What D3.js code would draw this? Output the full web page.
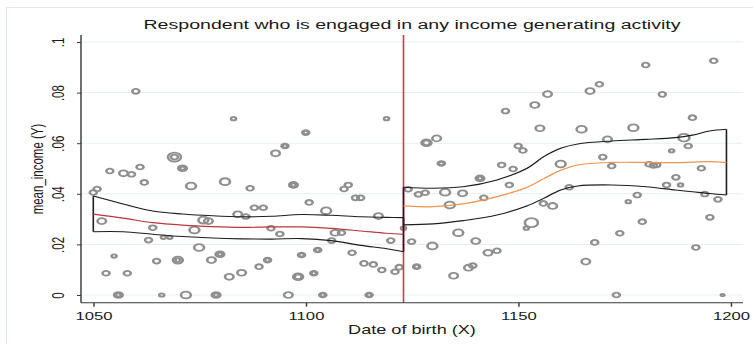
<!DOCTYPE html>
<html>
<head>
<meta charset="utf-8">
<script src="https://cdn.jsdelivr.net/npm/d3@7"></script>
<style>
  html, body { margin: 0; padding: 0; background: #fff; }
  svg { display: block; font-family: "Liberation Sans", Arial, Helvetica, sans-serif; }
</style>
</head>
<body>
<svg id="chart" width="753" height="344"></svg>
<script>
// ---- Binned means: date of birth, mean income, cell weight ----
const dob = [
  1050.0, 1050.9, 1052.0, 1053.0, 1053.9, 1054.9, 1055.9, 1055.9, 1057.1, 1058.0,
  1059.0, 1060.0, 1061.0, 1062.0, 1063.0, 1064.0, 1064.9, 1066.1, 1066.5, 1068.0,
  1069.1, 1069.1, 1069.9, 1069.9, 1071.0, 1071.0, 1071.8, 1073.0, 1073.8, 1074.9,
  1075.9, 1077.1, 1077.8, 1079.8, 1079.8, 1078.9, 1078.9, 1081.0, 1082.0, 1083.0,
  1084.0, 1084.9, 1085.9, 1086.9, 1087.9, 1089.0, 1090.0, 1091.0, 1091.0, 1091.8,
  1092.9, 1093.9, 1095.1, 1095.1, 1095.9, 1097.1, 1097.1, 1098.2, 1098.2, 1099.0,
  1099.0, 1100.0, 1100.0, 1100.8, 1101.9, 1101.9, 1102.8, 1102.8, 1104.0, 1104.0,
  1104.8, 1106.1, 1106.9, 1108.4, 1109.0, 1110.0, 1110.9, 1111.7, 1112.9, 1113.7,
  1114.9, 1114.9, 1115.9, 1117.1, 1117.9, 1119.0, 1120.0, 1121.0, 1122.0, 1123.0,
  1124.1, 1124.9, 1126.1, 1126.1, 1126.5, 1128.1, 1128.4, 1128.4, 1130.8, 1129.8,
  1131.9, 1131.9, 1132.8, 1133.9, 1134.8, 1135.9, 1136.9, 1138.3, 1139.3, 1140.0,
  1141.0, 1141.0, 1141.9, 1142.9, 1145.0, 1146.1, 1147.0, 1147.9, 1148.8, 1150.0,
  1151.1, 1151.9, 1153.1, 1153.9, 1155.1, 1155.9, 1156.9, 1158.1, 1160.0, 1162.0,
  1164.9, 1165.9, 1166.9, 1168.0, 1169.1, 1169.9, 1171.0, 1172.0, 1173.1, 1173.9,
  1175.9, 1177.1, 1178.0, 1179.2, 1180.0, 1180.8, 1181.8, 1182.6, 1183.9, 1184.9,
  1186.1, 1187.1, 1188.2, 1189.0, 1190.0, 1191.0, 1191.8, 1193.1, 1193.9, 1195.1,
  1196.0, 1197.0, 1198.1
];
const meanIncome = [
  0.0405, 0.0419, 0.0292, 0.0086, 0.0490, 0.0154, 0.0000, 0.0000, 0.0481, 0.0086,
  0.0477, 0.0805, 0.0506, 0.0445, 0.0217, 0.0266, 0.0134, 0.0000, 0.0228, 0.0228,
  0.0545, 0.0545, 0.0138, 0.0138, 0.0501, 0.0501, 0.0000, 0.0431, 0.0257, 0.0188,
  0.0296, 0.0292, 0.0138, 0.0161, 0.0161, 0.0000, 0.0000, 0.0448, 0.0072, 0.0697,
  0.0319, 0.0088, 0.0310, 0.0422, 0.0345, 0.0112, 0.0345, 0.0138, 0.0138, 0.0264,
  0.0560, 0.0241, 0.0589, 0.0589, 0.0000, 0.0435, 0.0435, 0.0072, 0.0072, 0.0158,
  0.0158, 0.0642, 0.0642, 0.0366, 0.0086, 0.0086, 0.0178, 0.0178, 0.0000, 0.0000,
  0.0333, 0.0215, 0.0246, 0.0246, 0.0419, 0.0435, 0.0167, 0.0384, 0.0384, 0.0125,
  0.0000, 0.0000, 0.0121, 0.0312, 0.0099, 0.0697, 0.0215, 0.0092, 0.0110, 0.0264,
  0.0418, 0.0211, 0.0112, 0.0112, 0.0398, 0.0404, 0.0602, 0.0602, 0.0619, 0.0194,
  0.0520, 0.0520, 0.0406, 0.0356, 0.0076, 0.0246, 0.0402, 0.0108, 0.0116, 0.0213,
  0.0461, 0.0461, 0.0384, 0.0167, 0.0175, 0.0514, 0.0727, 0.0435, 0.0498, 0.0589,
  0.0571, 0.0264, 0.0286, 0.0751, 0.0659, 0.0362, 0.0794, 0.0352, 0.0518, 0.0426,
  0.0655, 0.0132, 0.0806, 0.0208, 0.0833, 0.0545, 0.0615, 0.0510, 0.0000, 0.0244,
  0.0369, 0.0661, 0.0395, 0.0290, 0.0909, 0.0517, 0.0512, 0.0514, 0.0793, 0.0435,
  0.0570, 0.0465, 0.0435, 0.0622, 0.0589, 0.0701, 0.0188, 0.0501, 0.0399, 0.0307,
  0.0926, 0.0378, 0.0000
];
const cellWeight = [
  2, 2, 3, 2, 2, 1, 3, 1, 3, 2,
  2, 2, 2, 2, 2, 2, 2, 1, 1, 1,
  7, 2, 4, 1, 3, 1, 4, 4, 4, 4,
  4, 3, 3, 3, 1, 3, 1, 4, 3, 1,
  3, 3, 2, 2, 2, 2, 2, 2, 1, 2,
  3, 2, 2, 1, 3, 3, 1, 4, 2, 2,
  1, 2, 1, 2, 2, 1, 2, 1, 2, 1,
  4, 2, 3, 2, 2, 2, 2, 2, 2, 2,
  2, 1, 2, 3, 2, 1, 2, 2, 2, 1,
  2, 2, 2, 1, 2, 2, 4, 2, 3, 4,
  2, 1, 4, 4, 3, 4, 3, 3, 2, 3,
  3, 1, 2, 3, 2, 2, 2, 2, 2, 2,
  2, 1, 7, 3, 3, 2, 3, 3, 4, 2,
  4, 3, 3, 2, 2, 2, 3, 2, 2, 2,
  1, 4, 2, 2, 2, 2, 2, 2, 2, 2,
  1, 2, 1, 5, 2, 2, 2, 2, 2, 2,
  2, 2, 0.5
];

// ---- Local polynomial fits with confidence bands, each side of the cutoff ----
const cutoff = 1123;
const leftX   = [1050, 1057, 1064, 1071, 1078, 1085, 1092, 1099, 1106, 1113, 1119, 1123];
const leftFit = [0.0320, 0.0304, 0.0286, 0.0276, 0.0270, 0.0267, 0.0269, 0.0269, 0.0263, 0.0253, 0.0244, 0.0240];
const leftLo  = [0.0250, 0.0250, 0.0240, 0.0231, 0.0225, 0.0222, 0.0221, 0.0223, 0.0215, 0.0196, 0.0183, 0.0171];
const leftHi  = [0.0391, 0.0360, 0.0332, 0.0320, 0.0313, 0.0309, 0.0311, 0.0318, 0.0315, 0.0309, 0.0307, 0.0306];
const rightX   = [1123, 1130, 1137, 1145, 1152, 1156, 1160, 1164, 1172, 1180, 1187, 1191, 1195, 1199];
const rightFit = [0.0352, 0.0349, 0.0360, 0.0389, 0.0425, 0.0460, 0.0493, 0.0514, 0.0524, 0.0524, 0.0523, 0.0525, 0.0527, 0.0523];
const rightLo  = [0.0277, 0.0281, 0.0294, 0.0316, 0.0352, 0.0382, 0.0415, 0.0431, 0.0435, 0.0428, 0.0415, 0.0408, 0.0401, 0.0395];
const rightHi  = [0.0426, 0.0422, 0.0428, 0.0455, 0.0500, 0.0547, 0.0580, 0.0597, 0.0609, 0.0615, 0.0622, 0.0632, 0.0648, 0.0655];

// ---- Axis ticks and text ----
const xTicks = [1050, 1100, 1150, 1200];
const yTicks = [0, 0.02, 0.04, 0.06, 0.08, 0.1];
const yTickLabels = ["0", ".02", ".04", ".06", ".08", ".1"];
const titleText = "Respondent who is engaged in any income generating activity";
const xTitle = "Date of birth (X)";
const yTitle = "mean_income (Y)";

// The graph is laid out in a horizontally widened frame.
const SX = 1.45;
const px = v => v / SX;

const svg = d3.select("#chart");
svg.append("rect")
  .attr("x", 6.5).attr("y", 7.5).attr("width", 800).attr("height", 400)
  .attr("fill", "none").attr("stroke", "#e2eaee").attr("stroke-width", 1);

const g = svg.append("g").attr("transform", `scale(${SX},1)`);

const plot = { left: px(81), right: px(743), top: 35, bottom: 302.7 };
const x = d3.scaleLinear().domain([1050, 1200]).range([px(93.3), px(730.7)]);
const y = d3.scaleLinear().domain([0, 0.1]).range([295, 42]);

// grid
g.append("g").selectAll("line").data(yTicks).join("line")
  .attr("x1", plot.left).attr("x2", plot.right)
  .attr("y1", d => y(d)).attr("y2", d => y(d))
  .attr("stroke", "#e6eff2").attr("stroke-width", 1);

// scatter of binned means
const points = dob.map((d, i) => ({ x: d, y: meanIncome[i], w: cellWeight[i] }));
g.append("g").selectAll("circle").data(points).join("circle")
  .attr("cx", d => x(d.x)).attr("cy", d => y(d.y))
  .attr("r", d => 1.7 * Math.sqrt(d.w))
  .attr("fill", "none").attr("stroke", "#8f8f8f").attr("stroke-width", 1.8);

// cutoff
g.append("line")
  .attr("x1", x(cutoff)).attr("x2", x(cutoff))
  .attr("y1", plot.top).attr("y2", plot.bottom)
  .attr("stroke", "#cf3a4a").attr("stroke-width", 1.1);

const curve = d3.line().x(d => x(d[0])).y(d => y(d[1])).curve(d3.curveCatmullRom.alpha(0.5));

function drawSide(xs, fit, lo, hi, fitColor) {
  const zip = arr => xs.map((v, i) => [v, arr[i]]);
  const band = g.append("g").attr("fill", "none").attr("stroke", "#1e1e1e").attr("stroke-width", 1.1);
  g.append("path").attr("d", curve(zip(fit)))
    .attr("fill", "none").attr("stroke", fitColor).attr("stroke-width", 1.2);
  band.append("path").attr("d", curve(zip(hi)));
  band.append("path").attr("d", curve(zip(lo)));
  [0, xs.length - 1].forEach(i => {
    band.append("line")
      .attr("x1", x(xs[i])).attr("x2", x(xs[i]))
      .attr("y1", y(hi[i])).attr("y2", y(lo[i]));
  });
}
drawSide(leftX, leftFit, leftLo, leftHi, "#b8383f");
drawSide(rightX, rightFit, rightLo, rightHi, "#ef9550");

// axes
const axisColor = "#3a3a3a";
g.append("line").attr("x1", plot.left).attr("x2", plot.left)
  .attr("y1", plot.top).attr("y2", plot.bottom)
  .attr("stroke", axisColor).attr("stroke-width", 1);
g.append("line").attr("x1", plot.left).attr("x2", plot.right)
  .attr("y1", plot.bottom).attr("y2", plot.bottom)
  .attr("stroke", axisColor).attr("stroke-width", 1);

const yAxis = g.append("g").attr("transform", `translate(${plot.left},0)`)
  .call(d3.axisLeft(y).tickValues(yTicks).tickFormat((d, i) => yTickLabels[i]).tickSize(px(4)).tickSizeOuter(0));
yAxis.select(".domain").remove();
yAxis.selectAll(".tick line").attr("stroke", axisColor);
yAxis.selectAll(".tick text")
  .attr("x", null).attr("dy", null).attr("y", 0)
  .attr("transform", `translate(${px(63.5 - 81)},0) rotate(-90)`)
  .attr("text-anchor", "middle")
  .attr("font-size", 11.5).attr("font-family", null).attr("fill", "#1a1a1a");

const xAxis = g.append("g").attr("transform", `translate(0,${plot.bottom})`)
  .call(d3.axisBottom(x).tickValues(xTicks).tickFormat(d3.format("d")).tickSize(4).tickSizeOuter(0));
xAxis.select(".domain").remove();
xAxis.selectAll(".tick line").attr("stroke", axisColor);
xAxis.selectAll(".tick text")
  .attr("y", 17.5).attr("dy", null)
  .attr("font-size", 11.5).attr("font-family", null).attr("fill", "#1a1a1a");

// titles
g.append("text").attr("x", px(412)).attr("y", 29.5)
  .attr("text-anchor", "middle").attr("font-size", 13.5).attr("fill", "#1a1a1a")
  .text(titleText);
g.append("text").attr("x", px(412)).attr("y", 334)
  .attr("text-anchor", "middle").attr("font-size", 12.5).attr("fill", "#1a1a1a")
  .text(xTitle);
g.append("text").attr("transform", `translate(${px(43)},169) rotate(-90)`)
  .attr("text-anchor", "middle").attr("font-size", 11.5).attr("fill", "#1a1a1a")
  .text(yTitle);
</script>
</body>
</html>
